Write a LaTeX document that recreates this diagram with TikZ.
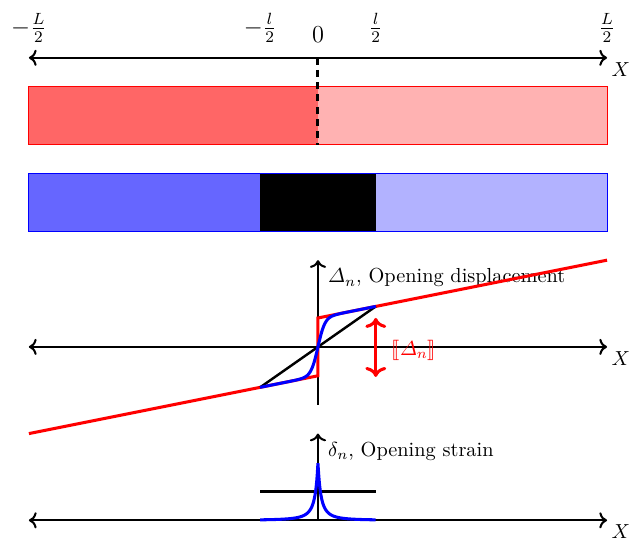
\documentclass[tikz,border=0pt]{standalone}
\usepackage{amsmath,amssymb}
\usepackage{stmaryrd}
\usetikzlibrary{arrows.meta,positioning,calc}

\begin{document}
\begin{tikzpicture}[
    axis/.style={line width=1pt},
    redbar/.style={draw=red},
    bluebar/.style={draw=blue},
    jump/.style={red, line width=1.5pt},
    fit/.style={blue, line width=1.5pt},
    mean/.style={black, line width=1.2pt},
    lbl/.style={inner sep=2pt},
    tick/.style={anchor=south, font=\large}
]
\useasboundingbox (-5.5,-3.36) rectangle (5.57,6.0);

% reference axis
\coordinate (tl) at (-5,5);
\coordinate (tr) at (5,5);
\coordinate (tc) at (0,5);
\coordinate (bc) at (0,3.5);
\draw[axis, <->] (tl) -- (tr);
\node[lbl, below right] (xtop) at (tr) {$X$};
\foreach \x/\t in {-5/-\frac{L}{2}, -1/-\frac{l}{2}, 0/0, 1/\frac{l}{2}, 5/\frac{L}{2}}
    \node[tick] (tick\x) at (\x,5.14) {$\t$};

% two bars
\fill[red!60] (-5,3.5) rectangle (0,4.5);
\fill[red!30] (0,3.5) rectangle (5,4.5);
\draw[redbar] (-5,3.5) rectangle (5,4.5);
\draw[line width=1.5pt, dash pattern=on 3.5pt off 2.5pt] (tc) -- (bc);

\fill[blue!60] (-5,2) rectangle (-1,3);
\fill[black] (-1,2) rectangle (1,3);
\fill[blue!30] (1,2) rectangle (5,3);
\draw[bluebar] (-5,2) rectangle (5,3);

% opening displacement
\coordinate (ml) at (-5,0);
\coordinate (mr) at (5,0);
\coordinate (mb) at (0,-1);
\coordinate (mt) at (0,1.5);
\draw[axis, <->] (ml) -- (mr);
\draw[axis, ->] (mb) -- (mt);
\node[lbl, below right] (xmid) at (mr) {$X$};
\node[lbl, anchor=north west] (disp) at (0.1,1.43) {$\varDelta_n$, Opening displacement};

\draw[jump] (-5,-1.5) -- (0,-0.5) -- (0,0.5) -- (5,1.5);
\draw[mean] (-1,-0.7) -- (1,0.7);
\draw[fit] plot[domain=-1:1, samples=161, smooth] (\x, {0.2*\x + 0.5*tanh(max(min(\x/0.12,6),-6))});
\coordinate (jt) at (1,0.5);
\coordinate (jb) at (1,-0.52);
\draw[jump, <->] (jb) -- (jt);
\node[red, lbl, anchor=west] (jlbl) at (1.2,-0.06) {$\llbracket \varDelta_n \rrbracket$};

% opening strain
\coordinate (sl) at (-5,-3);
\coordinate (sr) at (5,-3);
\coordinate (sb) at (0,-3);
\coordinate (st) at (0,-1.5);
\draw[axis, <->] (sl) -- (sr);
\draw[axis, ->] (sb) -- (st);
\node[lbl, below right] (xbot) at (sr) {$X$};
\node[lbl, anchor=north west] (strain) at (0.1,-1.57) {$\delta_n$, Opening strain};

\draw[mean] (-1,-2.5) -- (1,-2.5);
\draw[fit] plot[domain=-1:1, samples=201] (\x, {-3 + 1/(1+abs(\x)/0.1)^2});
\end{tikzpicture}
\end{document}
